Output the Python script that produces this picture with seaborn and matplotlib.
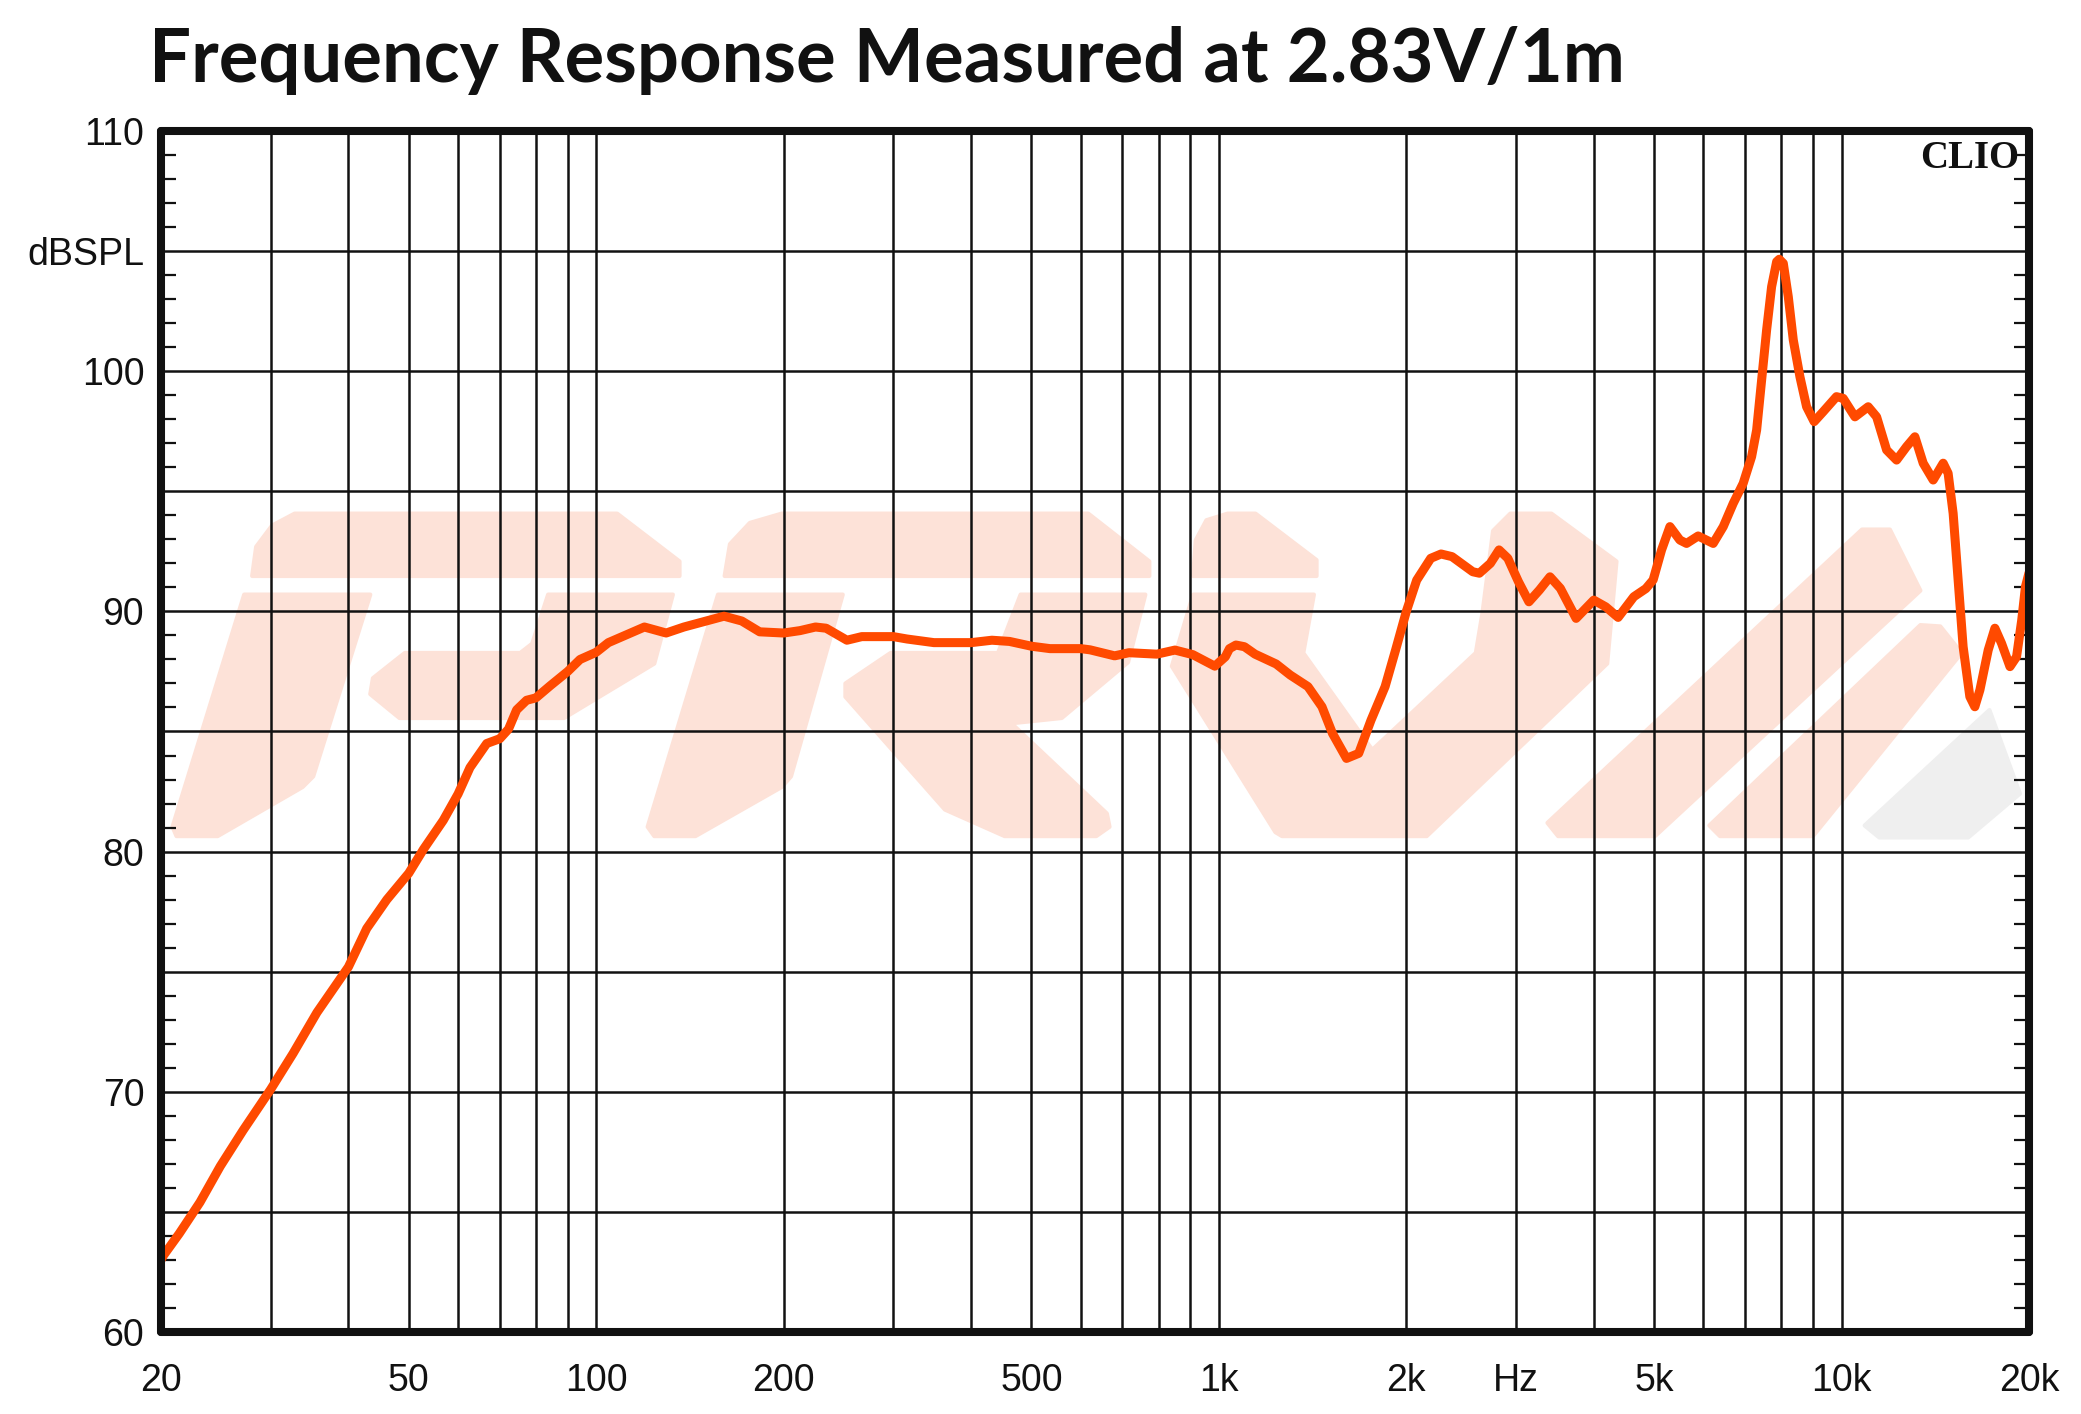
import matplotlib
matplotlib.use("Agg")
import matplotlib.pyplot as plt
from matplotlib.ticker import FixedLocator, NullFormatter
from matplotlib.patches import Polygon
import numpy as np
import pandas as pd
import seaborn as sns

# ---------------- data ----------------
freq_hz = [20.0, 20.2, 21.4, 23.1, 24.9, 27.1, 30, 32.6, 35.6, 40, 42.8, 46.1, 50, 52.8, 56.8,
           60, 62.7, 66.7, 70, 72.3, 74.5, 77.3, 80, 84.3, 90, 94.2, 100, 104.6, 113.5, 119.5,
           129.5, 138.3, 150.2, 160.4, 171.3, 183, 200, 212.5, 225, 234, 252.7, 267, 300, 315.7,
           348.6, 400, 432, 461, 500, 535.5, 600, 621, 680, 717, 795, 850, 908, 985, 1024, 1040,
           1065, 1099, 1143, 1236, 1302, 1390, 1464, 1522, 1603, 1677, 1755, 1849, 1922, 2000,
           2078, 2189, 2274, 2368, 2557, 2620, 2729, 2818, 2911, 3027, 3147, 3272, 3402, 3535,
           3747, 4000, 4181, 4377, 4638, 4850, 4982, 5140, 5301, 5500, 5637, 5884, 6221, 6457,
           6700, 6950, 7170, 7305, 7441, 7580, 7721, 7866, 7942, 8062, 8212, 8365, 8573, 8787,
           9036, 9340, 9814, 10060, 10507, 11035, 11384, 11813, 12257, 12718, 13115, 13524,
           14033, 14561, 14830, 15108, 15390, 15676, 16070, 16370, 16680, 17200, 17630, 18070,
           18640, 19100, 19470, 19740, 20000]
spl_db = [63.0, 63.2, 64.1, 65.4, 66.9, 68.4, 70.1, 71.6, 73.3, 75.2, 76.8, 78.0, 79.1, 80.1, 81.3,
          82.4, 83.5, 84.5, 84.7, 85.1, 85.9, 86.3, 86.4, 86.9, 87.5, 88.0, 88.3, 88.7, 89.1, 89.35,
          89.1, 89.35, 89.6, 89.8, 89.6, 89.15, 89.1, 89.2, 89.35, 89.3, 88.8, 88.95, 88.95, 88.85,
          88.7, 88.7, 88.8, 88.75, 88.55, 88.45, 88.45, 88.4, 88.15, 88.28, 88.22, 88.39, 88.2, 87.72, 88.11, 88.45,
          88.6, 88.53, 88.22, 87.81, 87.35, 86.87, 86.03, 84.92, 83.88, 84.09, 85.47, 86.87, 88.39, 90.0,
          91.3, 92.21, 92.39, 92.28, 91.65, 91.59, 92.0, 92.56, 92.21, 91.24, 90.4, 90.89, 91.44, 90.96,
          89.71, 90.47, 90.19, 89.75, 90.61, 90.95, 91.31, 92.56, 93.53, 92.97, 92.83, 93.14, 92.83, 93.53,
          94.5, 95.33, 96.44, 97.55, 99.63, 101.72, 103.52, 104.56, 104.66, 104.49, 103.1, 101.3, 99.77, 98.52,
          97.9, 98.31, 98.94, 98.87, 98.1, 98.52, 98.1, 96.72, 96.3, 96.86, 97.27, 96.17,
          95.47, 96.17, 95.75, 94.08, 91.31, 88.53, 86.45, 86.03, 86.73, 88.39, 89.3, 88.67,
          87.7, 88.11, 89.64, 91.03, 91.6]

x_grid_values = [20, 30, 40, 50, 60, 70, 80, 90, 100, 200, 300, 400, 500, 600, 700, 800, 900,
                 1000, 2000, 3000, 4000, 5000, 6000, 7000, 8000, 9000, 10000, 20000]
x_tick_values = [20, 50, 100, 200, 500, 1000, 2000, 3000, 5000, 10000, 20000]
x_tick_labels = ["20", "50", "100", "200", "500", "1k", "2k", "Hz", "5k", "10k", "20k"]
y_tick_values = [60, 65, 70, 75, 80, 85, 90, 95, 100, 105, 110]
y_tick_labels = ["60", "", "70", "", "80", "", "90", "", "100", "dBSPL", "110"]
y_minor_values = list(range(60, 111))

title_text = "Frequency Response Measured at 2.83V/1m"
brand_text = "CLIO"

# ---------------- style ----------------
sns.set_theme(style="white")
plt.rcParams["font.family"] = ["Liberation Sans", "DejaVu Sans"]

W, H = 2081, 1414
fig = plt.figure(figsize=(W / 100, H / 100), dpi=100)
fig.patch.set_facecolor("white")
AX_L, AX_R, AX_T, AX_B = 161, 2029, 131, 1332
ax = fig.add_axes([AX_L / W, 1 - AX_B / H, (AX_R - AX_L) / W, (AX_B - AX_T) / H])
ax.set_facecolor("white")

# ---------------- watermark (decoration, in reference-preview pixels) ----------------
S = 2081 / 1568


def to_axes(pts):
    return [((x * S - AX_L) / (AX_R - AX_L), 1 - (y * S - AX_T) / (AX_B - AX_T)) for x, y in pts]


wm_salmon = [
    [(190, 434), (193, 412), (205, 396), (222, 387), (465, 387), (512, 423), (512, 434)],
    [(184, 448), (279, 448), (236, 585), (228, 593), (164, 630), (133, 630), (130, 623)],
    [(413, 448), (507, 448), (493, 500), (425, 541), (301, 541), (279, 523), (281, 511),
     (305, 492), (392, 492), (401, 485)],
    [(546, 434), (550, 410), (565, 394), (589, 387), (820, 387), (866, 423), (866, 434)],
    [(541, 448), (635, 448), (596, 585), (589, 593), (524, 630), (493, 630), (488, 623)],
    [(637, 515), (671, 492), (752, 492), (769, 448), (863, 448), (850, 499), (800, 541),
     (762, 545), (834, 613), (836, 623), (826, 630), (757, 630), (712, 610), (637, 525)],
    [(899, 434), (901, 407), (909, 392), (925, 387), (946, 387), (992, 422), (992, 434)],
    [(899, 448), (990, 448), (982, 492), (1034, 565), (1112, 492), (1117, 462), (1125, 400),
     (1138, 387), (1169, 387), (1218, 423), (1211, 500), (1075, 630), (966, 630), (961, 627),
     (883, 502)],
    [(1166, 620), (1174, 630), (1247, 630), (1447, 445), (1424, 399), (1403, 399)],
    [(1288, 622), (1296, 630), (1366, 630), (1478, 492), (1462, 472), (1447, 471)],
]
wm_grey = [[(1405, 622), (1416, 631), (1483, 631), (1522, 598), (1499, 535)]]

for pts in wm_salmon:
    ax.add_patch(Polygon(to_axes(pts), closed=True, transform=ax.transAxes,
                         facecolor="#FDE2D8", edgecolor="#FDE2D8", lw=3,
                         joinstyle="round", zorder=0.2))
for pts in wm_grey:
    ax.add_patch(Polygon(to_axes(pts), closed=True, transform=ax.transAxes,
                         facecolor="#EFEFEF", edgecolor="#EFEFEF", lw=3,
                         joinstyle="round", zorder=0.2))

# ---------------- curve ----------------
df = pd.DataFrame({"freq": freq_hz, "spl": spl_db})
sns.lineplot(data=df, x="freq", y="spl", ax=ax, color="#FF4A00", linewidth=6.5,
             estimator=None, sort=False, zorder=3,
             solid_joinstyle="round", solid_capstyle="round")

ax.set_xscale("log")
ax.set_xlim(20, 20000)
ax.set_ylim(60, 110)
ax.set_xlabel("")
ax.set_ylabel("")

ax.xaxis.set_major_locator(FixedLocator(x_tick_values))
ax.set_xticklabels(x_tick_labels)
ax.xaxis.set_minor_locator(FixedLocator(x_grid_values))
ax.xaxis.set_minor_formatter(NullFormatter())

ax.yaxis.set_major_locator(FixedLocator(y_tick_values))
ax.set_yticklabels(y_tick_labels)
ax.yaxis.set_minor_locator(FixedLocator(y_minor_values))

ax.set_axisbelow(True)
grid_kw = dict(color="#111111", linewidth=1.8)
ax.grid(True, which="both", axis="x", **grid_kw)
ax.grid(True, which="major", axis="y", **grid_kw)

ax.tick_params(axis="x", which="both", length=0, pad=22, labelsize=27, labelcolor="#111111")
ax.tick_params(axis="y", which="major", length=0, pad=12, labelsize=27, labelcolor="#111111")
ax.tick_params(axis="y", which="minor", direction="in", left=True, right=True,
               length=11, width=1.6, color="#111111")

for sp in ax.spines.values():
    sp.set_linewidth(5.8)
    sp.set_color("#111111")
    sp.set_zorder(4)
    sp.set_joinstyle("round")
    sp.set_capstyle("round")

ax.text(0.995, 1 - (158 - AX_T) / (AX_B - AX_T), brand_text, transform=ax.transAxes,
        ha="right", va="center", fontsize=28, fontweight="bold",
        family=["Liberation Serif", "DejaVu Serif"], color="#111111", zorder=5)

fig.text(149 / W, 1 - 82 / H, title_text, ha="left", va="baseline", fontsize=53.5,
         fontweight="bold", family=["Lato", "DejaVu Sans"], color="#111111")

fig.savefig("out.png", dpi=100, facecolor="white")
